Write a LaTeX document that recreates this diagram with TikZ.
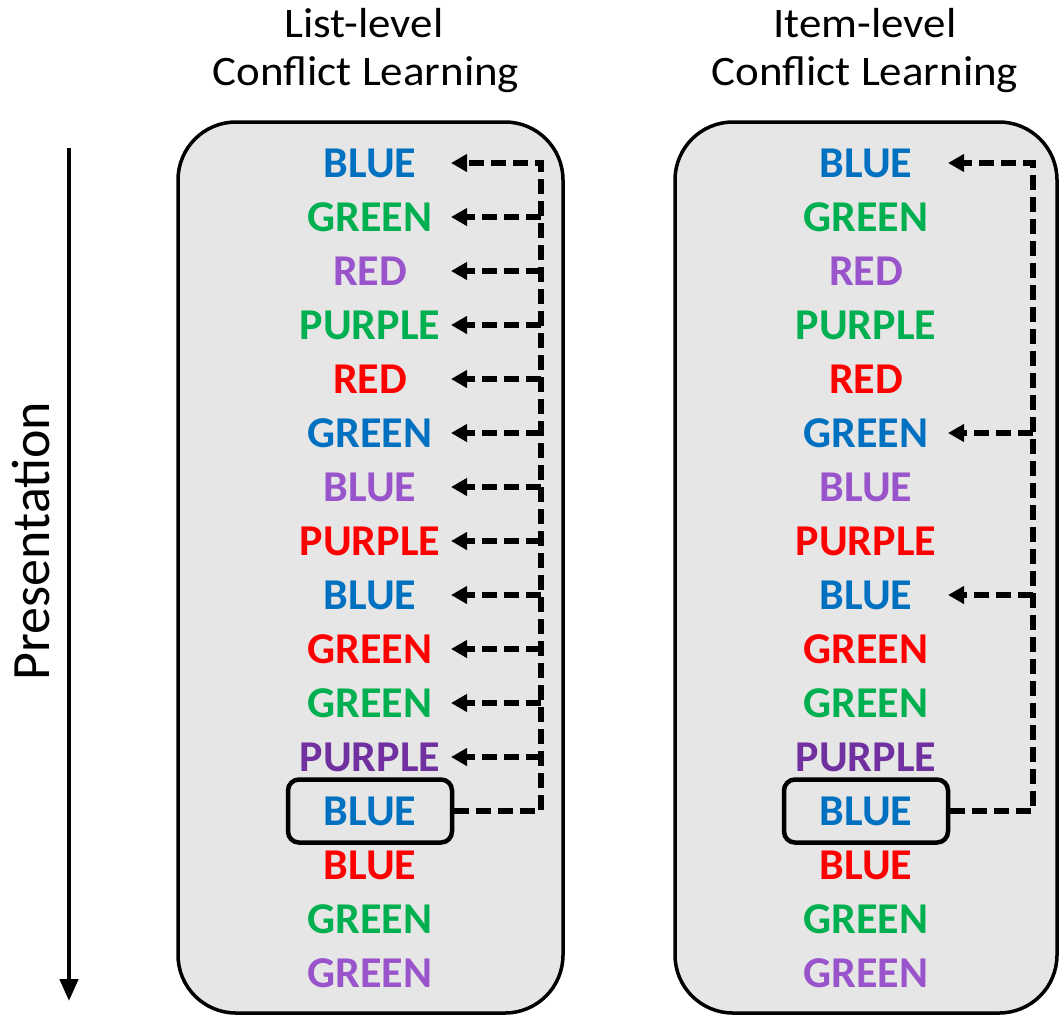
\documentclass[tikz,border=0pt]{standalone}
\usepackage{fontspec}
\setmainfont{Carlito}
\usetikzlibrary{arrows.meta}
\definecolor{cblue}{HTML}{0070C0}
\definecolor{cgreen}{HTML}{00B050}
\definecolor{cred}{HTML}{FF0000}
\definecolor{cpurp}{HTML}{9954CC}
\definecolor{cdpurp}{HTML}{7030A0}
\definecolor{panel}{HTML}{E6E6E6}
\begin{document}
\begin{tikzpicture}[x=1pt,y=-1pt,
  word/.style={font=\fontsize{44}{44}\selectfont\bfseries, inner sep=0pt, text height=28.5pt, text depth=0pt, anchor=center},
  selbox/.style={draw=black, line width=4.5pt, rounded corners=11pt, minimum width=164pt, minimum height=63pt},
  panelbox/.style={draw=black, line width=3.5pt, fill=panel, rounded corners=58pt},
  head/.style={font=\fontsize{42}{42}\selectfont, inner sep=0pt, anchor=base},
  dashline/.style={line width=5.5pt, dash pattern=on 15pt off 7pt},
  dasharr/.style={dashline, -{Triangle[length=16pt,width=17pt]}}]
\useasboundingbox (0,0) rectangle (1059,1018);
% panels
\draw[panelbox] (178,122) rectangle (563,1013);
\draw[panelbox] (675,122) rectangle (1057,1013);
% headings
\node[head] (hL1) at (364,37) {\scalebox{1.07}[1]{List-level}};
\node[head] (hL2) at (366,85) {\scalebox{1.07}[1]{Conflict Learning}};
\node[head] (hR1) at (865,37) {\scalebox{1.07}[1]{Item-level}};
\node[head] (hR2) at (865,85) {\scalebox{1.07}[1]{Conflict Learning}};
% presentation axis
\coordinate (pTop) at (69,148);
\coordinate (pBot) at (69,1001);
\draw[line width=4.5pt, -{Triangle[length=22pt,width=18pt]}] (pTop) -- (pBot);
\node[font=\fontsize{54}{54}\selectfont, rotate=90, inner sep=0pt] (pres) at (31,541) {Presentation};
% words
\foreach \side/\cx in {L/370, R/866} {
  \node[word, text=cblue]  (\side1)  at (\cx,163) {BLUE};
  \node[word, text=cgreen] (\side2)  at (\cx,217) {GREEN};
  \node[word, text=cpurp]  (\side3)  at (\cx,271) {RED};
  \node[word, text=cgreen] (\side4)  at (\cx,325) {PURPLE};
  \node[word, text=cred]   (\side5)  at (\cx,379) {RED};
  \node[word, text=cblue]  (\side6)  at (\cx,433) {GREEN};
  \node[word, text=cpurp]  (\side7)  at (\cx,487) {BLUE};
  \node[word, text=cred]   (\side8)  at (\cx,541) {PURPLE};
  \node[word, text=cblue]  (\side9)  at (\cx,595) {BLUE};
  \node[word, text=cred]   (\side10) at (\cx,649) {GREEN};
  \node[word, text=cgreen] (\side11) at (\cx,703) {GREEN};
  \node[word, text=cdpurp] (\side12) at (\cx,757) {PURPLE};
  \node[word, text=cblue, selbox] (\side13) at (\cx,811) {BLUE};
  \node[word, text=cred]   (\side14) at (\cx,865) {BLUE};
  \node[word, text=cgreen] (\side15) at (\cx,919) {GREEN};
  \node[word, text=cpurp]  (\side16) at (\cx,973) {GREEN};
}
% left connectors
\coordinate (spL) at (541,0);
\coordinate (tipL) at (451,0);
\draw[dasharr] (L13.east) -- (L13.east -| spL) -- (L1 -| spL) -- (L1 -| tipL);
\foreach \i in {2,...,12} {
  \draw[dasharr] (L\i -| spL) -- (L\i -| tipL);
}
% right connectors
\coordinate (spR) at (1033,0);
\coordinate (tipR) at (948,0);
\draw[dasharr] (R13.east) -- (R13.east -| spR) -- (R1 -| spR) -- (R1 -| tipR);
\foreach \i in {6,9} {
  \draw[dasharr] (R\i -| spR) -- (R\i -| tipR);
}
\end{tikzpicture}
\end{document}
